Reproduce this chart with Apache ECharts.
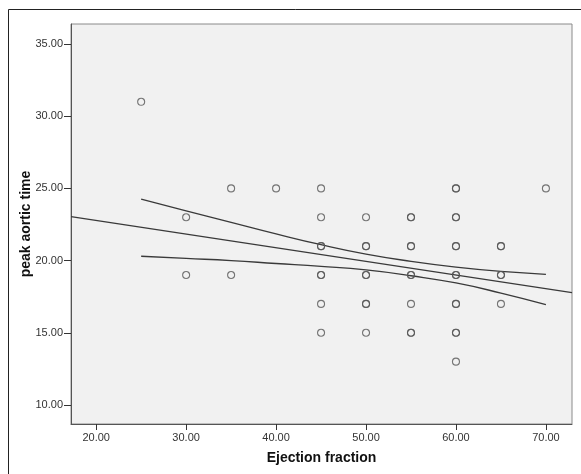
<!DOCTYPE html>
<html>
<head>
<meta charset="utf-8">
<script src="https://cdn.jsdelivr.net/npm/echarts@6/dist/echarts.min.js"></script>
<style>
  html, body { margin: 0; padding: 0; background: #fff; }
  #chart { width: 581px; height: 474px; }
</style>
</head>
<body>
<div id="chart"></div>
<script>
// scatter points (ejection fraction, peak aortic time); repeated pairs overlap
var points = [
  [25, 31],
  [30, 23], [30, 19],
  [35, 25], [35, 19],
  [40, 25],
  [45, 25], [45, 23], [45, 21], [45, 21], [45, 19], [45, 19], [45, 17], [45, 15],
  [50, 23], [50, 21], [50, 21], [50, 19], [50, 19], [50, 17], [50, 17], [50, 15],
  [55, 23], [55, 23], [55, 21], [55, 21], [55, 19], [55, 19], [55, 17], [55, 15], [55, 15],
  [60, 25], [60, 25], [60, 23], [60, 23], [60, 21], [60, 21], [60, 19], [60, 19],
  [60, 17], [60, 17], [60, 15], [60, 15], [60, 13],
  [65, 21], [65, 21], [65, 19], [65, 19], [65, 17],
  [70, 25]
];

// fit line, read at the plot edges
var fitLine = [[17.2, 23.05], [72.9, 17.78]];

// confidence band
var bandX = [25, 30, 35, 40, 45, 50, 55, 60, 65, 70];
var bandUpper = [24.25, 23.45, 22.65, 21.85, 21.1, 20.45, 19.95, 19.55, 19.25, 19.05];
var bandLower = [20.3, 20.15, 20.0, 19.8, 19.6, 19.35, 18.95, 18.45, 17.75, 16.95];

var xTicks = [20, 30, 40, 50, 60, 70];
var yTicks = [10, 15, 20, 25, 30, 35];

var upper = bandX.map(function (x, i) { return [x, bandUpper[i]]; });
var lower = bandX.map(function (x, i) { return [x, bandLower[i]]; });

var chart = echarts.init(document.getElementById('chart'));

var lineStyle = { color: '#3a3a3a', width: 1.3 };
var tickFont = { color: '#333', fontSize: 11, fontFamily: 'Liberation Sans, Arial, sans-serif' };

chart.setOption({
  animation: false,
  graphic: [{
    type: 'rect',
    shape: { x: 8.5, y: 9.5, width: 600, height: 500 },
    style: { fill: 'none', stroke: '#222', lineWidth: 1 },
    z: -10
  }],
  grid: {
    left: 71, right: 9, top: 24, bottom: 50,
    show: true, backgroundColor: '#f1f1f1', borderColor: '#8a8a8a', borderWidth: 1
  },
  xAxis: {
    type: 'value', min: 17.2, max: 72.9,
    name: 'Ejection fraction', nameLocation: 'middle', nameGap: 27, nameMoveOverlap: false,
    nameTextStyle: { fontSize: 14, fontWeight: 'bold', color: '#111', fontFamily: 'Liberation Sans, Arial, sans-serif' },
    axisLine: { show: true, lineStyle: { color: '#555' } },
    axisTick: { show: true, length: 6, customValues: xTicks, lineStyle: { color: '#333' } },
    axisLabel: Object.assign({ customValues: xTicks, margin: 8, formatter: function (v) { return v.toFixed(2); } }, tickFont),
    splitLine: { show: false }
  },
  yAxis: {
    type: 'value', min: 8.68, max: 36.39,
    name: 'peak aortic time', nameLocation: 'middle', nameGap: 38, nameRotate: 90, nameMoveOverlap: false,
    nameTextStyle: { fontSize: 14, fontWeight: 'bold', color: '#111', fontFamily: 'Liberation Sans, Arial, sans-serif' },
    axisLine: { show: true, lineStyle: { color: '#555' } },
    axisTick: { show: true, length: 7, customValues: yTicks, lineStyle: { color: '#333' } },
    axisLabel: Object.assign({ customValues: yTicks, margin: 8, formatter: function (v) { return v.toFixed(2); } }, tickFont),
    splitLine: { show: false }
  },
  series: [
    {
      type: 'line', data: fitLine, symbol: 'none', lineStyle: lineStyle, silent: true
    },
    {
      type: 'line', data: upper, symbol: 'none', smooth: true, lineStyle: lineStyle, silent: true
    },
    {
      type: 'line', data: lower, symbol: 'none', smooth: true, lineStyle: lineStyle, silent: true
    },
    {
      type: 'scatter', data: points, symbol: 'circle', symbolSize: 7,
      itemStyle: { color: 'rgba(0,0,0,0)', borderColor: '#555', borderWidth: 1.1 },
      z: 5
    }
  ]
});
</script>
</body>
</html>
